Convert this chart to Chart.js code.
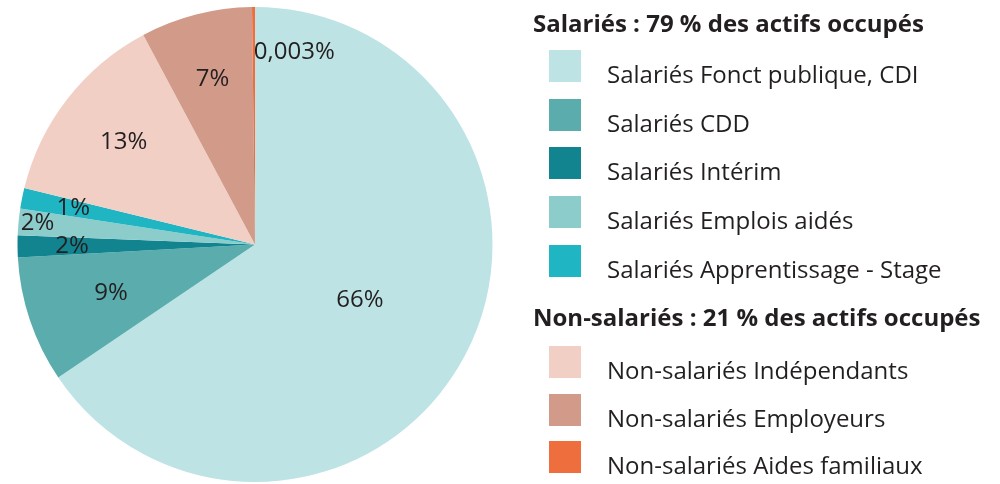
<!DOCTYPE html>
<html>
<head>
<meta charset="utf-8">
<script src="https://cdn.jsdelivr.net/npm/chart.js@4/dist/chart.umd.min.js"></script>
<style>
  body { margin: 0; background: #fff; font-family: "Open Sans", sans-serif; color: #231f20; }
  #wrap { position: relative; width: 1000px; height: 484px; }
  #pie { position: absolute; left: 0; top: 0; width: 510px; height: 484px; }
  #legend { position: absolute; left: 0; top: 0; width: 1000px; height: 484px; }
  .head { position: absolute; left: 533px; font-weight: 700; font-size: 24px; line-height: 1; white-space: nowrap; }
  .sw { position: absolute; left: 549px; width: 32px; height: 32px; }
  .lab { position: absolute; left: 607px; font-size: 24px; white-space: nowrap; line-height: 1; }
</style>
</head>
<body>
<div id="wrap">
  <div id="pie"><canvas id="myChart"></canvas></div>
  <div id="legend"></div>
</div>
<script>
const categories = [
  'Salariés Fonct publique, CDI',
  'Salariés CDD',
  'Salariés Intérim',
  'Salariés Emplois aidés',
  'Salariés Apprentissage - Stage',
  'Non-salariés Indépendants',
  'Non-salariés Employeurs',
  'Non-salariés Aides familiaux'
];
// shares (percent)
const shares = [65.6, 8.6, 1.5, 1.8, 1.4, 13.4, 7.6, 0.2];
// labels printed on the slices
const sliceLabels = ['66%', '9%', '2%', '2%', '1%', '13%', '7%', '0,003%'];
const groups = ['Salariés : 79 % des actifs occupés', 'Non-salariés : 21 % des actifs occupés'];
const groupOf = [0, 0, 0, 0, 0, 1, 1, 1];

const colors = ['#bde3e4', '#5badad', '#11848f', '#8ccdcc', '#1fb5c3', '#f2cfc5', '#d29a89', '#ee6e3d'];
// where each label sits along the radius (fraction of outer radius)
const labelRadius = [0.5, 0.64, 0.77, 0.92, 0.78, 0.70, 0.72, 0.81];

const sliceText = {
  id: 'sliceText',
  afterDatasetsDraw(chart) {
    const ctx = chart.ctx;
    const arcs = chart.getDatasetMeta(0).data;
    ctx.save();
    ctx.font = '24px "Open Sans"';
    ctx.fillStyle = '#231f20';
    ctx.textBaseline = 'middle';
    arcs.forEach((arc, i) => {
      const p = arc.getProps(['x', 'y', 'startAngle', 'endAngle', 'outerRadius'], true);
      const a = (p.startAngle + p.endAngle) / 2;
      const r = p.outerRadius * labelRadius[i];
      const x = p.x + Math.cos(a) * r;
      const y = p.y + Math.sin(a) * r;
      ctx.textAlign = i === arcs.length - 1 ? 'left' : 'center';
      ctx.fillText(sliceLabels[i], x, y);
    });
    ctx.restore();
  }
};

const ctx = document.getElementById('myChart').getContext('2d');
const myChart = new Chart(ctx, {
  type: 'pie',
  data: {
    labels: categories,
    datasets: [{
      data: shares,
      backgroundColor: colors,
      borderWidth: 0
    }]
  },
  options: {
    responsive: true,
    maintainAspectRatio: false,
    animation: false,
    layout: { padding: { top: 7, bottom: 2, left: 17, right: 17 } },
    plugins: {
      legend: { display: false },
      tooltip: { enabled: false }
    }
  },
  plugins: [sliceText]
});

// legend on the right
const legend = document.getElementById('legend');
const headTop = [11, 305];
const rowTop = [50, 346];
const rowStep = [48.7, 47.5];
groups.forEach((g, gi) => {
  const h = document.createElement('div');
  h.className = 'head';
  h.style.top = headTop[gi] + 'px';
  h.textContent = g;
  legend.append(h);
  let k = 0;
  categories.forEach((c, i) => {
    if (groupOf[i] !== gi) return;
    const top = rowTop[gi] + k * rowStep[gi];
    const s = document.createElement('div');
    s.className = 'sw';
    s.style.top = top + 'px';
    s.style.background = colors[i];
    legend.append(s);
    const t = document.createElement('div');
    t.className = 'lab';
    t.style.top = (top + 12) + 'px';
    t.textContent = c;
    legend.append(t);
    k++;
  });
});
</script>
</body>
</html>
